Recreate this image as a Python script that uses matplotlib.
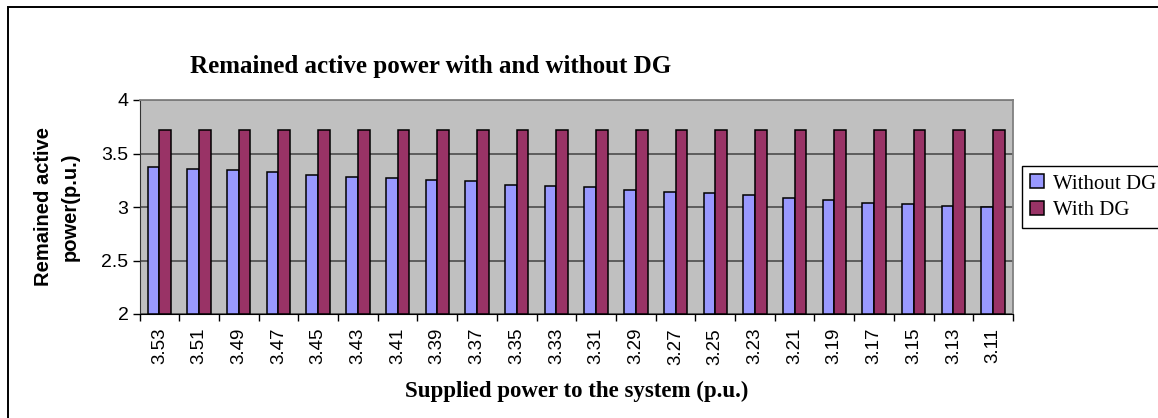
import matplotlib
matplotlib.use("Agg")
import matplotlib.pyplot as plt
import matplotlib.patches as mpatches
import numpy as np

categories = ["3.53", "3.51", "3.49", "3.47", "3.45", "3.43", "3.41", "3.39", "3.37", "3.35", "3.33",
              "3.31", "3.29", "3.27", "3.25", "3.23", "3.21", "3.19", "3.17", "3.15", "3.13", "3.11"]
without_dg = [3.37, 3.357, 3.345, 3.33, 3.30, 3.285, 3.27, 3.256, 3.244, 3.21, 3.20,
              3.184, 3.158, 3.142, 3.127, 3.113, 3.085, 3.07, 3.041, 3.028, 3.013, 3.00]
with_dg = [3.72] * 22
y_ticks = [2, 2.5, 3, 3.5, 4]

W, H = 1158, 418
fig = plt.figure(figsize=(W / 100, H / 100), dpi=100)
fig.patch.set_facecolor("white")

# outer chart border
fig.add_artist(mpatches.Rectangle((8 / W, -0.1), 1.2, 1 - 7 / H + 0.1, transform=fig.transFigure,
                                  fill=False, edgecolor="black", lw=1.4, clip_on=False))

ax = fig.add_axes([139.5 / W, 1 - 314 / H, (1013 - 139.5) / W, (314 - 100) / H])
ax.set_facecolor("#C0C0C0")

x = np.arange(len(categories))
bw = 0.295
ax.bar(x - bw / 2, [v - 2 for v in without_dg], bw, bottom=2, color="#9999FF", edgecolor="black",
       lw=1.1, label="Without DG", zorder=3)
ax.bar(x + bw / 2, [v - 2 for v in with_dg], bw, bottom=2, color="#993366", edgecolor="black",
       lw=1.1, label="With DG", zorder=3)

ax.set_xlim(-0.5, len(categories) - 0.5)
ax.set_ylim(2, 4)
ax.set_yticks(y_ticks)
ax.set_yticklabels([f"{t:g}" for t in y_ticks], fontfamily="Liberation Sans", fontsize=14)
ax.yaxis.grid(True, color="#555555", lw=1.3, zorder=1)
ax.set_axisbelow(True)

ax.set_xticks(x)
ax.set_xticklabels(categories, rotation=90, fontfamily="Liberation Sans", fontsize=13.5)
ax.set_xticks(np.arange(-0.5, len(categories), 1), minor=True)
ax.tick_params(axis="x", which="major", length=0, pad=10)
ax.tick_params(axis="x", which="minor", length=5, width=1, color="black")
ax.tick_params(axis="y", length=5, width=1, pad=3)

for s in ["top", "right"]:
    ax.spines[s].set_color("#808080")
    ax.spines[s].set_linewidth(1.3)
ax.spines["left"].set_color("#333333")
ax.spines["bottom"].set_color("black")

fig.text(431 / W, 1 - 66 / H, "Remained active power with and without DG", ha="center", va="center",
         fontfamily="Liberation Serif", fontweight="bold", fontsize=18)
fig.text(577 / W, 1 - 391 / H, "Supplied power to the system (p.u.)", ha="center", va="center",
         fontfamily="Liberation Serif", fontweight="bold", fontsize=16.5)
fig.text(57 / W, 1 - 207 / H, "Remained active\npower(p.u.)", ha="center", va="center", rotation=90,
         multialignment="center", fontfamily="Liberation Sans", fontweight="bold", fontsize=14.5,
         linespacing=1.5)

leg = fig.legend(loc="upper left", bbox_to_anchor=(1022 / W, 1 - 166 / H),
                 prop={"family": "Liberation Serif", "size": 15},
                 frameon=True, fancybox=False, edgecolor="black", framealpha=1,
                 handlelength=0.65, handleheight=0.65, handletextpad=0.45, borderpad=0.4,
                 labelspacing=0.35, borderaxespad=0)
leg.get_frame().set_linewidth(1.0)

fig.savefig("out.png", dpi=100)
